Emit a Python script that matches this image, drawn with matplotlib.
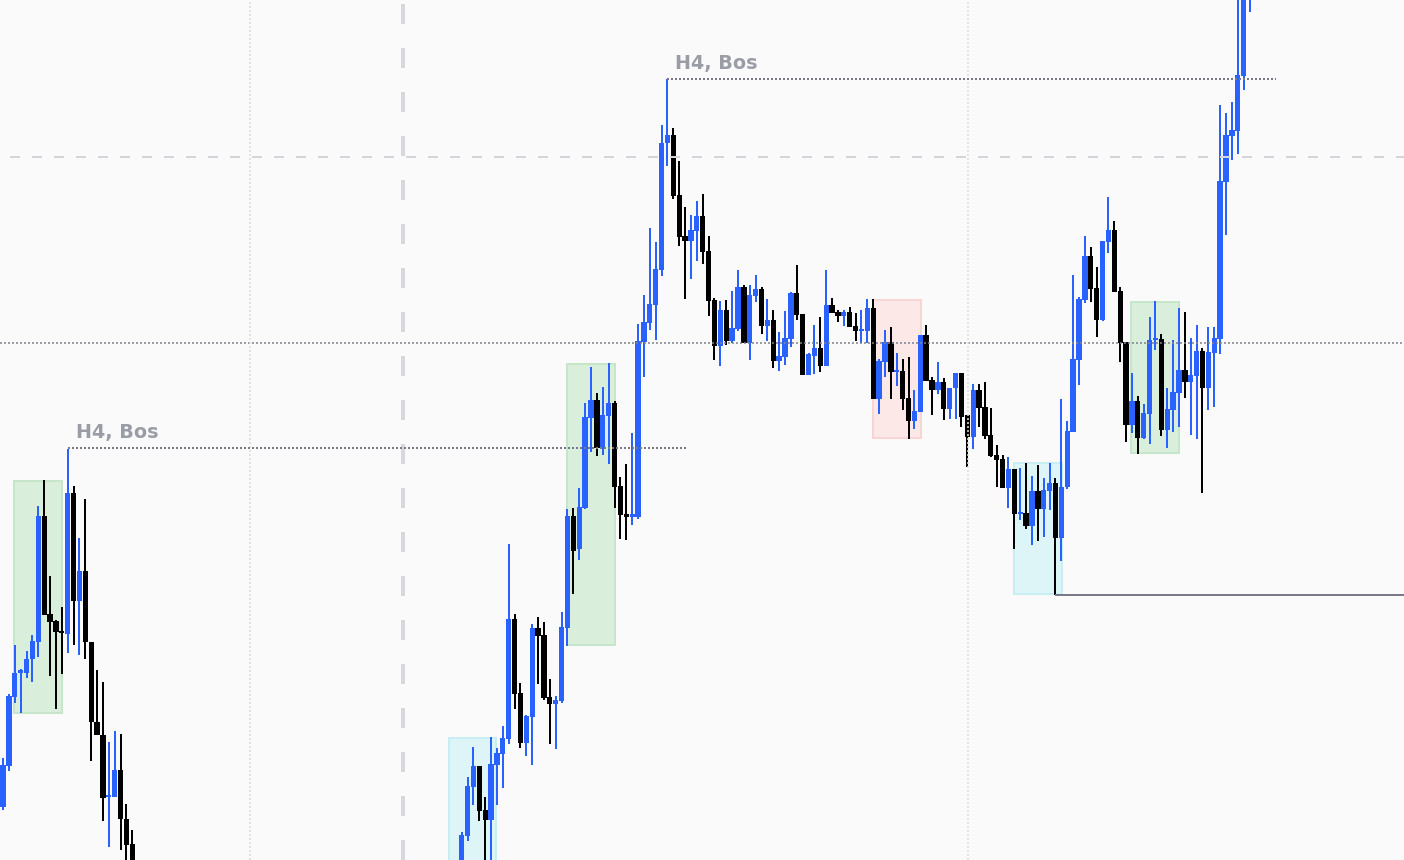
import matplotlib
matplotlib.use("Agg")
import matplotlib.pyplot as plt
from matplotlib.patches import Rectangle
import numpy as np

# ---------------- data ----------------
# candle time slots (the candles between the two runs trade below the visible range)
idx_left = list(range(0, 23))
idx_right = list(range(78, 213))

open_left = [53, 94, 163, 187, 187, 201, 218, 344, 246, 239, 229, 226, 367, 259, 289, 218, 138, 125, 63, 63, 90, 41, 16]
high_left = [102, 166, 215, 191, 209, 225, 354, 380, 284, 240, 253, 411, 374, 322, 361, 218, 190, 178, 118, 129, 126, 56, 30]
low_left = [50, 89, 157, 147, 182, 178, 203, 245, 184, 151, 186, 207, 215, 205, 201, 99, 125, 39, 13, 63, 10, -5, -20]
close_left = [95, 164, 187, 190, 201, 219, 344, 245, 238, 228, 227, 367, 259, 289, 218, 138, 125, 62, 65, 90, 41, 15, -10]

open_right = [-5, 24, 73, 94, 50, 40, 95, 106, 121, 241, 167, 117, 143, 232, 225, 163, 156, 159, 232, 344,
              311, 352, 442, 460, 412, 444, 457, 374, 346, 343, 343, 518, 537, 555, 590, 717, 725, 665, 624, 619,
              629, 644, 609, 560, 514, 550, 519, 531, 573, 517, 564, 571, 534, 540, 499, 503, 521, 567, 546, 485,
              504, 512, 494, 555, 548, 544, 548, 534, 529, 529, 552, 461, 498, 518, 488, 489, 462, 439, 448, 525,
              480, 470, 478, 451, 472, 487, 445, 423, 470, 453, 425, 405, 401, 372, 391, 346, 347, 334, 369, 351,
              369, 377, 322, 373, 428, 500, 560, 604, 572, 540, 618, 630, 569, 518, 435, 459, 422, 446, 520, 521,
              430, 450, 467, 490, 478, 484, 509, 472, 507, 521, 678, 724, 729, 784, 870]
high_right = [28, 83, 113, 94, 63, 123, 112, 134, 316, 246, 177, 145, 236, 243, 238, 181, 164, 248, 351, 352,
              372, 457, 493, 467, 473, 497, 459, 383, 396, 427, 536, 565, 632, 618, 735, 781, 732, 699, 653, 645,
              659, 666, 624, 562, 559, 560, 569, 590, 575, 575, 585, 573, 561, 550, 528, 549, 568, 595, 546, 507,
              535, 543, 590, 562, 550, 550, 553, 547, 550, 561, 561, 501, 530, 533, 507, 501, 503, 470, 525, 535,
              483, 498, 482, 472, 487, 487, 445, 476, 476, 478, 452, 415, 405, 403, 391, 392, 397, 384, 395, 382,
              397, 382, 461, 439, 585, 563, 624, 613, 593, 619, 663, 639, 573, 518, 487, 464, 456, 543, 559, 526,
              472, 520, 552, 548, 522, 535, 512, 533, 533, 755, 747, 758, 870, 880, 900]
low_right = [-10, 19, 55, 39, -10, -5, 55, 72, 116, 151, 112, 104, 95, 176, 160, 116, 111, 157, 214, 266,
             300, 351, 408, 404, 405, 396, 352, 321, 320, 335, 341, 483, 530, 520, 584, 694, 661, 614, 561, 581,
             599, 596, 544, 500, 494, 515, 517, 529, 517, 500, 558, 526, 519, 492, 489, 495, 513, 540, 485, 485,
             486, 488, 494, 547, 538, 534, 533, 519, 517, 517, 461, 446, 483, 461, 474, 450, 421, 431, 448, 479,
             445, 466, 440, 441, 441, 433, 393, 411, 433, 421, 403, 373, 372, 352, 311, 340, 331, 315, 319, 323,
             350, 265, 299, 371, 428, 475, 557, 558, 523, 539, 607, 568, 498, 418, 427, 406, 421, 416, 510, 424,
             412, 428, 433, 462, 425, 421, 367, 450, 453, 506, 625, 700, 706, 770, 848]
close_right = [25, 74, 94, 49, 40, 96, 107, 122, 241, 166, 117, 144, 232, 224, 162, 156, 160, 233, 344, 309,
               353, 443, 460, 412, 445, 457, 373, 345, 343, 346, 519, 538, 556, 591, 717, 725, 664, 623, 619, 630,
               644, 608, 559, 514, 550, 519, 532, 573, 517, 565, 571, 534, 540, 499, 504, 522, 567, 545, 485, 506,
               512, 494, 555, 547, 544, 548, 533, 529, 531, 552, 461, 499, 518, 488, 490, 461, 439, 449, 525, 479,
               470, 478, 451, 472, 487, 443, 423, 470, 452, 424, 404, 400, 372, 391, 346, 348, 334, 369, 351, 370,
               377, 322, 373, 429, 501, 561, 604, 571, 540, 619, 630, 568, 517, 435, 459, 422, 447, 520, 522, 430,
               451, 468, 490, 478, 485, 509, 472, 508, 522, 679, 725, 730, 785, 870, 890]

# zones: (start slot, end slot, top price, bottom price)
zone_start = [1.9, 95.9, 75.9, 148.0, 171.9, 191.8]
zone_end = [10.0, 104.1, 83.8, 156.1, 180.1, 200.0]
zone_top = [379, 496, 122, 560, 397, 558]
zone_bottom = [147, 215, -20, 422, 266, 407]
zone_kind = ["bull", "bull", "demand", "bear", "demand", "bull"]

# break-of-structure markers
bos_label = ["H4, Bos", "H4, Bos"]
bos_start = [11, 113]
bos_end = [116.5, 216.5]
bos_level = [412, 781]

# other horizontal / vertical levels
level_dotted = 517
level_dashed = 703
level_solid_from = 179
level_solid = 265
vline_dashed = 68.0
vline_dotted = [42.0, 164.1]

# ---------------- style ----------------
BG = "#fafafa"
UP = "#2962ff"
DOWN = "#000000"
ZONE_FILL = {"bull": "#d9eedb", "demand": "#def5f8", "bear": "#fde8e8"}
ZONE_EDGE = {"bull": "#c6e5c9", "demand": "#c8eef3", "bear": "#f8d4d4"}
px = 0.72  # points per pixel at dpi 100

fig = plt.figure(figsize=(14.04, 8.6), dpi=100, facecolor=BG)
ax = fig.add_axes([0, 0, 1, 1])
ax.set_facecolor(BG)
ax.set_xlim(-0.51, 238.27)
ax.set_ylim(0, 860)
ax.axis("off")

# zones
for s, e, t, b, k in zip(zone_start, zone_end, zone_top, zone_bottom, zone_kind):
    ax.add_patch(Rectangle((s, b), e - s, t - b, facecolor=ZONE_FILL[k],
                           edgecolor=ZONE_EDGE[k], lw=2 * px, zorder=1))

# candles
idx = np.array(idx_left + idx_right)
o = np.array(open_left + open_right, dtype=float)
h = np.array(high_left + high_right, dtype=float)
l = np.array(low_left + low_right, dtype=float)
c = np.array(close_left + close_right, dtype=float)
cols = np.where(c >= o, UP, DOWN)
ax.vlines(idx, l, h, colors=cols, lw=2 * px, zorder=3)
bot = np.minimum(o, c)
hgt = np.abs(c - o)
mid = (o + c) / 2
small = hgt < 2.2
bot = np.where(small, mid - 1.1, bot)
hgt = np.where(small, 2.2, hgt)
ax.bar(idx, hgt, width=0.9, bottom=bot, color=cols, lw=0, zorder=3)

# levels
ax.axhline(level_dotted, color="#80838d", lw=1.6 * px, ls=(0, (1.2, 1.3)), zorder=4)
ax.plot([1.2, 238.27], [level_dashed, level_dashed], color="#d3d5db", lw=2 * px,
        ls=(0, (5, 6)), zorder=4)
ax.axvline(vline_dashed, color="#d6d8dd", lw=4 * px, ls=(0, (5, 6)), zorder=4)
for v in vline_dotted:
    ax.axvline(v, color="#dcdcdc", lw=1.6 * px, ls=(0, (1.2, 1.3)), zorder=4)
ax.plot([level_solid_from, 238.27], [level_solid, level_solid], color="#787b86",
        lw=2 * px, zorder=4, solid_capstyle="butt")

for lab, s, e, lev in zip(bos_label, bos_start, bos_end, bos_level):
    ax.plot([s, e], [lev, lev], color="#787b86", lw=2 * px, ls=(0, (1, 1)), zorder=4)
    ax.annotate(lab, (s, lev), xytext=(8, 6), textcoords="offset pixels",
                ha="left", va="bottom", fontsize=13.8, fontweight="bold",
                color="#9a9da6", family="DejaVu Sans", zorder=5)

fig.savefig("out.png", dpi=100, facecolor=BG)
